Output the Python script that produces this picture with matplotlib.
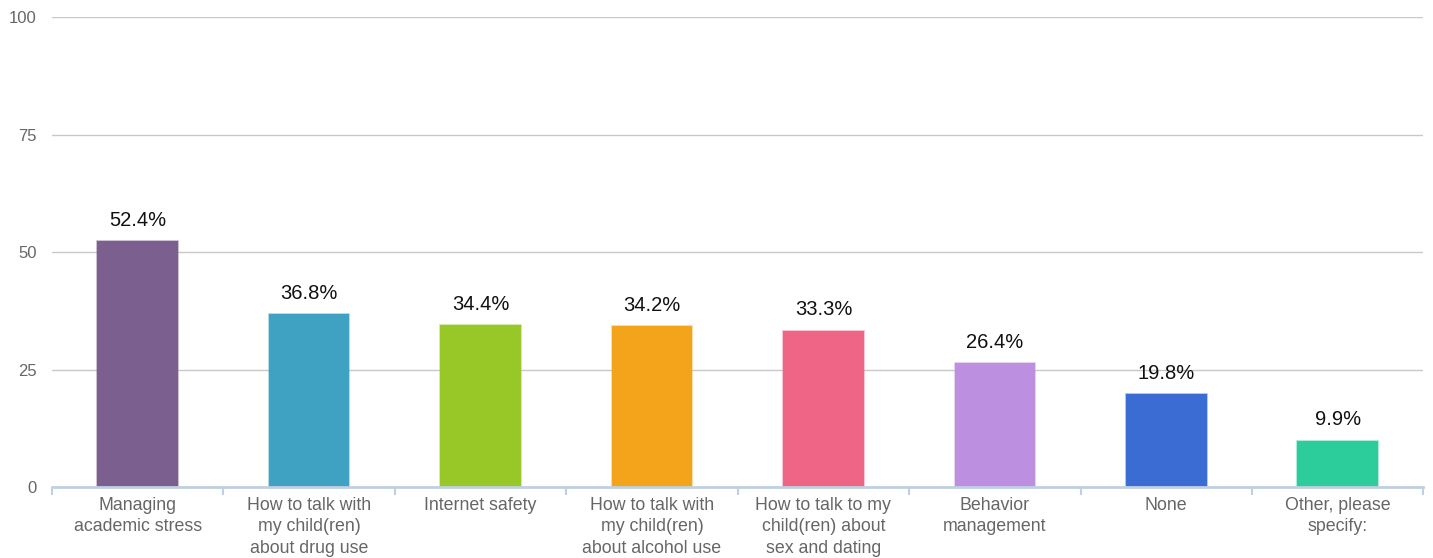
import numpy as np
import matplotlib.pyplot as plt

plt.rcParams['font.family'] = ['Liberation Sans', 'DejaVu Sans']

categories = ['Managing\nacademic stress',
              'How to talk with\nmy child(ren)\nabout drug use',
              'Internet safety',
              'How to talk with\nmy child(ren)\nabout alcohol use',
              'How to talk to my\nchild(ren) about\nsex and dating',
              'Behavior\nmanagement',
              'None',
              'Other, please\nspecify:']
values = [52.4, 36.8, 34.4, 34.2, 33.3, 26.4, 19.8, 9.9]
colors = ['#7b5f8f', '#40a2c2', '#97c828', '#f4a41b',
          '#ef6585', '#bd8fe0', '#3b6cd4', '#2dcc9b']
yticks = [0, 25, 50, 75, 100]

fig = plt.figure(figsize=(14.33, 5.58), dpi=100)
ax = fig.add_axes([0.0363, 0.127, 0.957, 0.8425])

x = np.arange(len(categories))
bars = ax.bar(x, values, width=0.47, color=colors, zorder=3)
# lighter outline on each bar
for b, c in zip(bars, colors):
    b.set_edgecolor(plt.matplotlib.colors.to_rgba(c, 0.45))
    b.set_linewidth(1.2)

for xi, v in zip(x, values):
    ax.annotate(f'{v}%', (xi, v), xytext=(0, 8), textcoords='offset points',
                ha='center', va='bottom', fontsize=14.5, color='#111111')

ax.set_xlim(-0.5, len(categories) - 0.5)
ax.set_ylim(0, 100)
ax.set_yticks(yticks)
ax.set_yticklabels([str(t) for t in yticks], fontsize=12, color='#666666')
ax.tick_params(axis='y', length=0, pad=11)
ax.yaxis.grid(True, color='#c8c8c8', linewidth=1, zorder=0)

# category labels centred, tick marks on the boundaries
ax.set_xticks(x)
ax.set_xticklabels(categories, fontsize=12.8, color='#666666', linespacing=1.35, va='top')
ax.tick_params(axis='x', length=0, pad=7)
ax.set_xticks(np.arange(-0.5, len(categories) + 0.5, 1), minor=True)
ax.tick_params(axis='x', which='minor', length=6, color='#c0d0e0', width=1.5)

for s in ['top', 'right', 'left']:
    ax.spines[s].set_visible(False)
ax.spines['bottom'].set_color('#c0d0e0')
ax.spines['bottom'].set_linewidth(2)
ax.spines['bottom'].set_zorder(4)

fig.savefig('out.png', dpi=100)
